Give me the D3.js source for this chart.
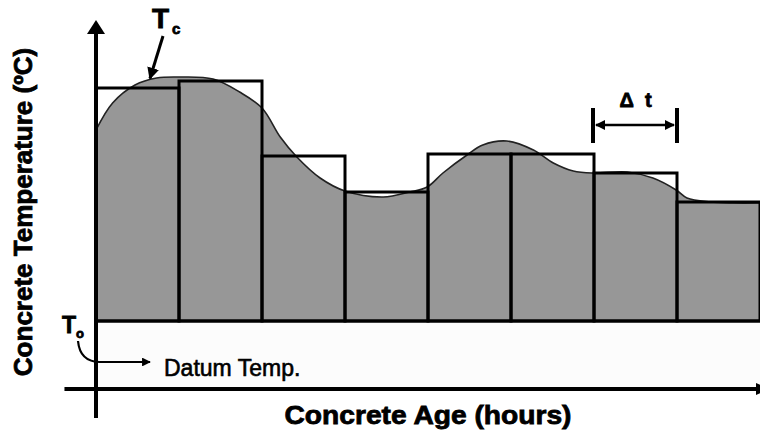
<!DOCTYPE html>
<html>
<head>
<meta charset="utf-8">
<script src="https://cdn.jsdelivr.net/npm/d3@7"></script>
<style>
  html, body { margin: 0; padding: 0; background: #fff; }
  svg { display: block; }
  text { font-family: "Liberation Sans", Arial, sans-serif; fill: #000; }
  text.heavy { stroke: #000; stroke-width: 0.8px; }
</style>
</head>
<body>
<div id="chart"></div>
<script>
// interval boundaries (in multiples of the time step) and mean temperature of each interval
var binStart = [0, 1, 2, 3, 4, 5, 6, 7];
var binTemp  = [36.6, 38.0, 23.0, 15.8, 23.4, 23.4, 19.6, 13.8];

// measured concrete temperature history
var curveAge  = [0, 0.2, 0.47, 0.73, 1.01, 1.41, 1.73, 2.0, 2.22, 2.42, 2.7, 3.0, 3.46, 3.78, 3.99, 4.18, 4.47, 4.66, 4.95, 5.27, 5.51, 5.75, 5.99, 6.4, 6.71, 6.99, 7.12, 7.4, 7.67, 8.0];
var curveTemp = [28.2, 33.6, 37.2, 38.6, 38.8, 38.4, 35.8, 32.6, 26.8, 22.8, 18.6, 16.0, 14.8, 15.8, 16.8, 19.6, 23.2, 25.2, 26.0, 24.2, 21.6, 20.0, 19.6, 19.8, 18.6, 16.2, 14.6, 13.8, 13.6, 13.6];

var datumTemp = -10;   // T0
var dt = 1;            // width of one interval

var W = 760, H = 433;

var svg = d3.select("#chart").append("svg")
    .attr("width", W)
    .attr("height", H);

var x = d3.scaleLinear().domain([0, 8]).range([96, 760]);
var y = d3.scaleLinear().domain([-10, 40]).range([321, 71]);

// axis extents (data units)
var axisBottomTemp = -23.6, axisTopTemp = 50.2, axisDownTemp = -29.4, axisLeftAge = -0.38;

var defs = svg.append("defs");
defs.append("marker")
    .attr("id", "ah")
    .attr("viewBox", "0 0 10 10")
    .attr("refX", 9).attr("refY", 5)
    .attr("markerWidth", 4).attr("markerHeight", 4)
    .attr("markerUnits", "strokeWidth")
    .attr("orient", "auto-start-reverse")
  .append("path")
    .attr("d", "M0,0 L10,5 L0,10 Z")
    .attr("fill", "#000");

// light strip between datum temp and the time axis
svg.append("rect")
    .attr("x", x(0))
    .attr("y", y(datumTemp))
    .attr("width", x(8) - x(0))
    .attr("height", y(axisBottomTemp) - y(datumTemp))
    .attr("fill", "#fcfcfc");

// area under the temperature curve
var pts = curveAge.map(function(a, i){ return [a, curveTemp[i]]; });
var area = d3.area()
    .x(function(d){ return x(d[0]); })
    .y0(y(datumTemp))
    .y1(function(d){ return y(d[1]); })
    .curve(d3.curveCatmullRom);
var line = d3.line()
    .x(function(d){ return x(d[0]); })
    .y(function(d){ return y(d[1]); })
    .curve(d3.curveCatmullRom);

svg.append("path")
    .datum(pts)
    .attr("d", area)
    .attr("fill", "#979797");
svg.append("path")
    .datum(pts)
    .attr("d", line)
    .attr("fill", "none")
    .attr("stroke", "#222")
    .attr("stroke-width", 1.6);

// rectangles of the interval approximation
svg.selectAll("rect.bin")
    .data(binStart)
    .enter()
    .append("rect")
      .attr("class", "bin")
      .attr("x", function(d){ return x(d); })
      .attr("y", function(d, i){ return y(binTemp[i]); })
      .attr("width", function(d){ return x(d + dt) - x(d); })
      .attr("height", function(d, i){ return y(datumTemp) - y(binTemp[i]); })
      .attr("fill", "none")
      .attr("stroke", "#000")
      .attr("stroke-width", 3);

// datum line
svg.append("line")
    .attr("x1", x(0)).attr("x2", x(8))
    .attr("y1", y(datumTemp)).attr("y2", y(datumTemp))
    .attr("stroke", "#000")
    .attr("stroke-width", 3);

// time axis
svg.append("line")
    .attr("x1", x(axisLeftAge)).attr("x2", x(8) - 3)
    .attr("y1", y(axisBottomTemp)).attr("y2", y(axisBottomTemp))
    .attr("stroke", "#000")
    .attr("stroke-width", 4);
svg.append("path")
    .attr("d", "M" + (x(8) - 4) + "," + (y(axisBottomTemp) - 6) + " L" + (x(8) + 10) + "," + y(axisBottomTemp) + " L" + (x(8) - 4) + "," + (y(axisBottomTemp) + 6) + " Z")
    .attr("fill", "#000");

// temperature axis with arrow
svg.append("line")
    .attr("x1", x(0)).attr("x2", x(0))
    .attr("y1", y(axisDownTemp)).attr("y2", y(axisTopTemp) + 12)
    .attr("stroke", "#000")
    .attr("stroke-width", 4);
svg.append("path")
    .attr("d", "M" + x(0) + "," + (y(axisTopTemp)) + " L" + (x(0) + 9) + "," + (y(axisTopTemp) + 14) + " L" + (x(0) - 9) + "," + (y(axisTopTemp) + 14) + " Z")
    .attr("fill", "#000");

// axis titles
svg.append("text")
    .attr("class", "heavy")
    .attr("transform", "translate(32,212) rotate(-90)")
    .attr("text-anchor", "middle")
    .style("font-size", "26px")
    .style("font-weight", "bold")
    .text("Concrete Temperature (\u00baC)");

svg.append("text")
    .attr("class", "heavy")
    .attr("x", 428).attr("y", 424)
    .attr("text-anchor", "middle")
    .attr("textLength", 287)
    .attr("lengthAdjust", "spacingAndGlyphs")
    .style("font-size", "26px")
    .style("font-weight", "bold")
    .text("Concrete Age (hours)");

// Tc annotation
var tc = svg.append("text")
    .attr("class", "heavy")
    .attr("x", 152).attr("y", 28)
    .style("font-weight", "bold");
tc.append("tspan").style("font-size", "28px").text("T");
tc.append("tspan").attr("dx", 3).attr("dy", 6).style("font-size", "15px").text("c");

svg.append("line")
    .attr("x1", 163).attr("y1", 36)
    .attr("x2", x(0.65)).attr("y2", y(38.3) - 1)
    .attr("stroke", "#000")
    .attr("stroke-width", 3)
    .attr("marker-end", "url(#ah)");

// T0 / datum annotation
var t0 = svg.append("text")
    .attr("class", "heavy")
    .attr("x", 62).attr("y", 333)
    .style("font-weight", "bold");
t0.append("tspan").style("font-size", "23px").text("T");
t0.append("tspan").attr("dx", 0).attr("dy", 5).style("font-size", "13px").text("o");

svg.append("path")
    .attr("d", "M78,341 Q80,362 100,362 L150,362")
    .attr("fill", "none")
    .attr("stroke", "#000")
    .attr("stroke-width", 2.2)
    .attr("marker-end", "url(#ah)");

svg.append("text")
    .attr("x", 164).attr("y", 376)
    .style("font-size", "23px")
    .style("stroke", "#000")
    .style("stroke-width", "0.6px")
    .text("Datum Temp.");

// Δt annotation
var dtY = 125;
[5, 6].forEach(function(t){
  svg.append("line")
      .attr("x1", x(t + 1) - (t === 5 ? 1 : 0)).attr("x2", x(t + 1) - (t === 5 ? 1 : 0))
      .attr("y1", 108).attr("y2", 143)
      .attr("stroke", "#000")
      .attr("stroke-width", 4);
});
svg.append("line")
    .attr("x1", x(6) + 2).attr("x2", x(7) - 3)
    .attr("y1", dtY).attr("y2", dtY)
    .attr("stroke", "#000")
    .attr("stroke-width", 2.5)
    .attr("marker-start", "url(#ah)")
    .attr("marker-end", "url(#ah)");

svg.append("text")
    .attr("class", "heavy")
    .attr("x", x(6.5)).attr("y", 107)
    .attr("text-anchor", "middle")
    .style("font-size", "20px")
    .style("font-weight", "bold")
    .attr("xml:space", "preserve")
    .text("\u0394  t");
</script>
</body>
</html>
